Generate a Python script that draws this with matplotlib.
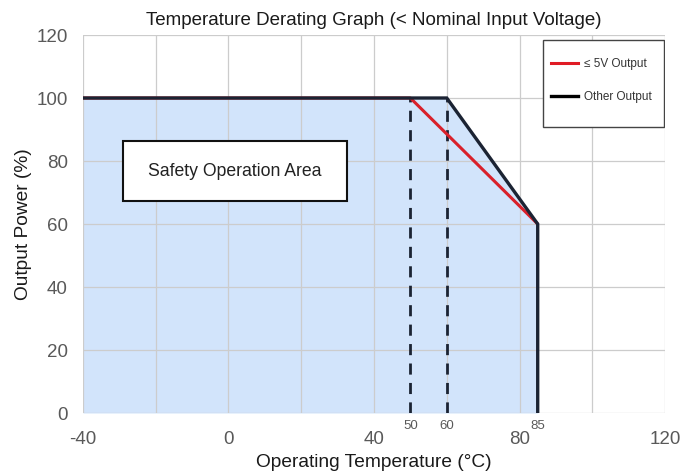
import matplotlib
matplotlib.use("Agg")
import matplotlib.pyplot as plt
from matplotlib.lines import Line2D
from matplotlib.patches import Rectangle

plt.rcParams['font.family'] = ['Liberation Sans', 'DejaVu Sans']
plt.rcParams['axes.unicode_minus'] = False

# Data
other_x = [-40, 60, 85, 85]
other_y = [100, 100, 60, 0]
low_x = [-40, 50, 85]
low_y = [100, 100, 60]
marker_temps = [50, 60, 85]
dashed_temps = [50, 60]
xticks = [-40, 0, 40, 80, 120]
yticks = [0, 20, 40, 60, 80, 100, 120]
xgrid = [-40, -20, 0, 20, 40, 60, 80, 100, 120]

fig = plt.figure(figsize=(6.99, 4.75), dpi=100)
ax = fig.add_axes([0.1187, 0.1305, 0.8327, 0.7958])
ax.set_xlim(-40, 120)
ax.set_ylim(0, 120)

navy = '#1b2333'
fill_c = '#d2e4fb'

ax.fill_between(other_x, other_y, 0, color=fill_c, zorder=1, linewidth=0)

for g in xgrid:
    ax.axvline(g, color='#cccccc', lw=0.9, zorder=1.5)
for g in yticks:
    ax.axhline(g, color='#cccccc', lw=0.9, zorder=1.5)

for t in dashed_temps:
    ax.plot([t, t], [0, 100], color=navy, lw=2, ls=(0, (4, 3)), zorder=3)

ax.plot(low_x, low_y, color='#d9202a', lw=2.2, zorder=4, solid_capstyle='butt')
ax.plot(other_x, other_y, color=navy, lw=2.4, zorder=5, solid_joinstyle='miter')

for s in ax.spines.values():
    s.set_visible(False)

ax.set_xticks(xticks)
ax.set_yticks(yticks)
ax.tick_params(length=0, labelsize=13.5, labelcolor='#595959')
ax.tick_params(axis='y', pad=11)
ax.tick_params(axis='x', pad=13)

for t in marker_temps:
    ax.text(t, -2.3, str(t), ha='center', va='top', fontsize=9.5, color='#595959')

ax.set_xlabel('Operating Temperature (°C)', fontsize=13.8, color='#1a1a1a', labelpad=4)
ax.set_ylabel('Output Power (%)', fontsize=13.8, color='#1a1a1a', labelpad=3)
ax.set_title('Temperature Derating Graph (< Nominal Input Voltage)', fontsize=13.5, color='#1a1a1a', pad=7)

# Safety Operation Area box
ax.add_patch(Rectangle((-29, 67.3), 61.6, 19.0, facecolor='white', edgecolor='#111111', lw=1.5, zorder=6))
ax.text(1.8, 76.8, 'Safety Operation Area', ha='center', va='center', fontsize=12.7, color='#222222', zorder=7)

# Legend box (drawn separately for exact proportions)
ax.add_patch(Rectangle((0.790, 0.757), 0.208, 0.230, transform=ax.transAxes,
                       facecolor='white', edgecolor='#444444', lw=1.0, zorder=7))
handles = [Line2D([0], [0], color='#e01b24', lw=2.2), Line2D([0], [0], color='black', lw=2.4)]
leg = ax.legend(handles, ['≤ 5V Output', 'Other Output'], loc='upper left',
                bbox_to_anchor=(0.804, 0.940), fontsize=8.5, frameon=False,
                handlelength=2.3, labelspacing=1.84, borderpad=0.0, handletextpad=0.5,
                borderaxespad=0.0)
leg.set_zorder(8)
for txt in leg.get_texts():
    txt.set_color('#333333')

fig.savefig('out.png', dpi=100)
